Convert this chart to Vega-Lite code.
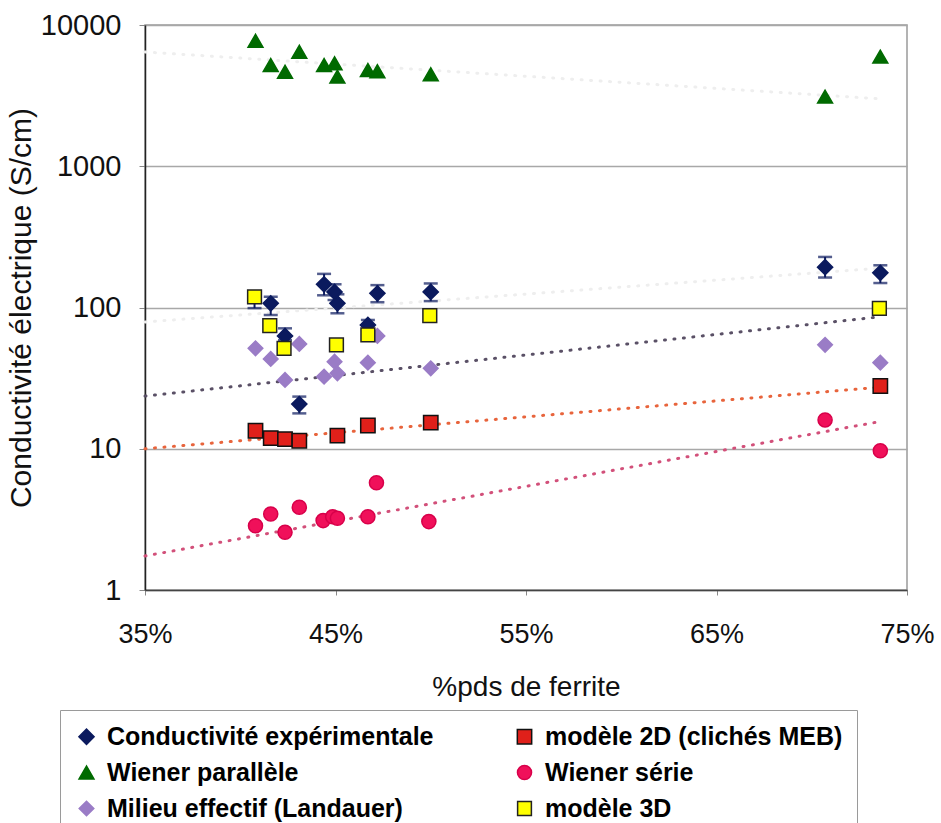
{
  "$schema": "https://vega.github.io/schema/vega-lite/v6.json",
  "width": 762,
  "height": 565,
  "autosize": {"type": "none"},
  "padding": {"left": 145, "top": 25, "right": 34, "bottom": 233},
  "background": "white",
  "config": {
    "font": "Liberation Sans",
    "view": {"stroke": "#9a9a9a", "strokeWidth": 1.5},
    "axis": {"labelFont": "Liberation Sans", "titleFont": "Liberation Sans", "labelColor": "#111", "titleColor": "#111", "titleFontWeight": "normal"}
  },
  "datasets": {
    "pts": [
      {"serie": "Conductivité expérimentale", "x": 41.6, "y": 107},
      {"serie": "Conductivité expérimentale", "x": 42.35, "y": 62.9},
      {"serie": "Conductivité expérimentale", "x": 43.1, "y": 20.7},
      {"serie": "Conductivité expérimentale", "x": 44.4, "y": 146},
      {"serie": "Conductivité expérimentale", "x": 44.95, "y": 129},
      {"serie": "Conductivité expérimentale", "x": 45.1, "y": 107},
      {"serie": "Conductivité expérimentale", "x": 46.7, "y": 75.2},
      {"serie": "Conductivité expérimentale", "x": 47.2, "y": 126},
      {"serie": "Conductivité expérimentale", "x": 50.0, "y": 129},
      {"serie": "Conductivité expérimentale", "x": 70.7, "y": 193},
      {"serie": "Conductivité expérimentale", "x": 73.6, "y": 176},
      {"serie": "modèle 2D (clichés MEB)", "x": 40.8, "y": 13.4},
      {"serie": "modèle 2D (clichés MEB)", "x": 41.6, "y": 11.9},
      {"serie": "modèle 2D (clichés MEB)", "x": 42.35, "y": 11.7},
      {"serie": "modèle 2D (clichés MEB)", "x": 43.1, "y": 11.4},
      {"serie": "modèle 2D (clichés MEB)", "x": 45.1, "y": 12.4},
      {"serie": "modèle 2D (clichés MEB)", "x": 46.7, "y": 14.6},
      {"serie": "modèle 2D (clichés MEB)", "x": 50.0, "y": 15.3},
      {"serie": "modèle 2D (clichés MEB)", "x": 73.6, "y": 27.8},
      {"serie": "Wiener parallèle", "x": 40.8, "y": 7740},
      {"serie": "Wiener parallèle", "x": 41.6, "y": 5210},
      {"serie": "Wiener parallèle", "x": 42.35, "y": 4670},
      {"serie": "Wiener parallèle", "x": 43.1, "y": 6470},
      {"serie": "Wiener parallèle", "x": 44.4, "y": 5210},
      {"serie": "Wiener parallèle", "x": 44.95, "y": 5360},
      {"serie": "Wiener parallèle", "x": 45.1, "y": 4310},
      {"serie": "Wiener parallèle", "x": 46.7, "y": 4800},
      {"serie": "Wiener parallèle", "x": 47.2, "y": 4710},
      {"serie": "Wiener parallèle", "x": 50.0, "y": 4480},
      {"serie": "Wiener parallèle", "x": 70.7, "y": 3110},
      {"serie": "Wiener parallèle", "x": 73.6, "y": 5970},
      {"serie": "Wiener série", "x": 40.8, "y": 2.85},
      {"serie": "Wiener série", "x": 41.6, "y": 3.45},
      {"serie": "Wiener série", "x": 42.35, "y": 2.56},
      {"serie": "Wiener série", "x": 43.1, "y": 3.85},
      {"serie": "Wiener série", "x": 44.35, "y": 3.1},
      {"serie": "Wiener série", "x": 44.85, "y": 3.3},
      {"serie": "Wiener série", "x": 45.1, "y": 3.22},
      {"serie": "Wiener série", "x": 46.7, "y": 3.3},
      {"serie": "Wiener série", "x": 47.15, "y": 5.75},
      {"serie": "Wiener série", "x": 49.9, "y": 3.05},
      {"serie": "Wiener série", "x": 70.7, "y": 16.0},
      {"serie": "Wiener série", "x": 73.6, "y": 9.69},
      {"serie": "Milieu effectif (Landauer)", "x": 40.8, "y": 51.4},
      {"serie": "Milieu effectif (Landauer)", "x": 41.6, "y": 43.2},
      {"serie": "Milieu effectif (Landauer)", "x": 42.35, "y": 30.7},
      {"serie": "Milieu effectif (Landauer)", "x": 43.1, "y": 55.2},
      {"serie": "Milieu effectif (Landauer)", "x": 44.4, "y": 32.4},
      {"serie": "Milieu effectif (Landauer)", "x": 44.95, "y": 41.3},
      {"serie": "Milieu effectif (Landauer)", "x": 45.1, "y": 34.2},
      {"serie": "Milieu effectif (Landauer)", "x": 46.7, "y": 40.7},
      {"serie": "Milieu effectif (Landauer)", "x": 47.2, "y": 62.9},
      {"serie": "Milieu effectif (Landauer)", "x": 50.0, "y": 37.1},
      {"serie": "Milieu effectif (Landauer)", "x": 70.7, "y": 54.4},
      {"serie": "Milieu effectif (Landauer)", "x": 73.6, "y": 40.7},
      {"serie": "modèle 3D", "x": 40.75, "y": 119},
      {"serie": "modèle 3D", "x": 41.55, "y": 74.3},
      {"serie": "modèle 3D", "x": 42.3, "y": 51.4},
      {"serie": "modèle 3D", "x": 45.05, "y": 54.3},
      {"serie": "modèle 3D", "x": 46.7, "y": 63.9},
      {"serie": "modèle 3D", "x": 49.95, "y": 87.5},
      {"serie": "modèle 3D", "x": 73.55, "y": 98.7}
    ],
    "errs": [
      {"serie": "Conductivité expérimentale", "x": 41.6, "lo": 88.5, "hi": 119},
      {"serie": "Conductivité expérimentale", "x": 42.35, "lo": 58.7, "hi": 71.2},
      {"serie": "Conductivité expérimentale", "x": 43.1, "lo": 17.8, "hi": 23.4},
      {"serie": "Conductivité expérimentale", "x": 44.4, "lo": 122, "hi": 173},
      {"serie": "Conductivité expérimentale", "x": 44.95, "lo": 113, "hi": 146},
      {"serie": "Conductivité expérimentale", "x": 45.1, "lo": 91, "hi": 124},
      {"serie": "Conductivité expérimentale", "x": 46.7, "lo": 69, "hi": 81.6},
      {"serie": "Conductivité expérimentale", "x": 47.2, "lo": 109, "hi": 144},
      {"serie": "Conductivité expérimentale", "x": 50.0, "lo": 111, "hi": 148},
      {"serie": "Conductivité expérimentale", "x": 70.7, "lo": 163, "hi": 228},
      {"serie": "Conductivité expérimentale", "x": 73.6, "lo": 149, "hi": 199},
      {"serie": "modèle 3D", "x": 40.75, "lo": 99, "hi": 125}
    ],
    "trends": [
      {"trend": "exp", "x": 35, "y": 79},
      {"trend": "exp", "x": 73.6, "y": 190},
      {"trend": "par", "x": 35, "y": 6440},
      {"trend": "par", "x": 73.6, "y": 3000},
      {"trend": "landauer", "x": 35, "y": 23.6},
      {"trend": "landauer", "x": 73.6, "y": 86},
      {"trend": "2d", "x": 35, "y": 10.0},
      {"trend": "2d", "x": 73.6, "y": 27.3},
      {"trend": "serie", "x": 35, "y": 1.74},
      {"trend": "serie", "x": 73.6, "y": 15.6}
    ]
  },
  "encoding": {
    "x": {
      "field": "x", "type": "quantitative",
      "scale": {"domain": [35, 75], "nice": false, "zero": false},
      "axis": {
        "values": [35, 45, 55, 65, 75],
        "labelExpr": "datum.value + '%'",
        "title": "%pds de ferrite",
        "labelFontSize": 27, "titleFontSize": 28,
        "labelPadding": 26, "titlePadding": 26,
        "tickSize": 5, "tickColor": "#888", "domainColor": "#444", "domainWidth": 1.5,
        "grid": false, "labelFlush": false
      }
    }
  },
  "layer": [
    {
      "data": {"name": "trends"},
      "transform": [{"filter": "datum.trend === 'exp' || datum.trend === 'par'"}],
      "mark": {"type": "line", "color": "#eeeeee", "strokeWidth": 3, "strokeDash": [1, 8.5], "strokeCap": "round"},
      "encoding": {"y": {"field": "y", "type": "quantitative", "title": "Conductivité électrique (S/cm)"}, "detail": {"field": "trend"}}
    },
    {
      "data": {"name": "trends"},
      "transform": [{"filter": "datum.trend === 'landauer'"}],
      "mark": {"type": "line", "color": "#5a5066", "strokeWidth": 3, "strokeDash": [1, 8.5], "strokeCap": "round"},
      "encoding": {"y": {"field": "y", "type": "quantitative", "title": "Conductivité électrique (S/cm)"}}
    },
    {
      "data": {"name": "trends"},
      "transform": [{"filter": "datum.trend === '2d'"}],
      "mark": {"type": "line", "color": "#e8643c", "strokeWidth": 3, "strokeDash": [1, 8.5], "strokeCap": "round"},
      "encoding": {"y": {"field": "y", "type": "quantitative", "title": "Conductivité électrique (S/cm)"}}
    },
    {
      "data": {"name": "trends"},
      "transform": [{"filter": "datum.trend === 'serie'"}],
      "mark": {"type": "line", "color": "#d2507a", "strokeWidth": 3, "strokeDash": [1, 8.5], "strokeCap": "round"},
      "encoding": {"y": {"field": "y", "type": "quantitative", "title": "Conductivité électrique (S/cm)"}}
    },
    {
      "data": {"name": "errs"},
      "mark": {"type": "errorbar", "ticks": {"size": 14, "thickness": 2.5, "color": "#0b1a5e"}, "thickness": 2, "color": "#0b1a5e"},
      "encoding": {
        "y": {"field": "lo", "type": "quantitative", "title": "Conductivité électrique (S/cm)"},
        "y2": {"field": "hi"}
      }
    },
    {
      "data": {"name": "pts"},
      "mark": {"type": "point", "filled": true, "strokeWidth": 1.5, "opacity": 1},
      "encoding": {
        "y": {
          "field": "y", "type": "quantitative",
          "title": "Conductivité électrique (S/cm)",
          "scale": {"type": "log", "domain": [1, 10000], "nice": false},
          "axis": {
            "values": [1, 10, 100, 1000, 10000],
            "format": "d",
            "title": "Conductivité électrique (S/cm)",
            "labelFontSize": 29, "titleFontSize": 30,
            "labelPadding": 18, "titlePadding": 4,
            "tickSize": 6, "tickColor": "#888", "domainColor": "#222", "domainWidth": 1.5,
            "grid": true, "gridColor": "#a8a8a8", "gridWidth": 1.5
          }
        },
        "color": {
          "field": "serie", "type": "nominal", "title": null,
          "scale": {
            "domain": ["Conductivité expérimentale", "Wiener parallèle", "Milieu effectif (Landauer)", "modèle 2D (clichés MEB)", "Wiener série", "modèle 3D"],
            "range": ["#0b1a5e", "#006a00", "#9a7cc6", "#e0201a", "#f0105a", "#ffff00"]
          },
          "legend": {
            "orient": "none",
            "legendX": -85,
            "legendY": 685,
            "columns": 2,
            "gridAlign": "all",
            "padding": 14,
            "strokeColor": "#9a9a9a",
            "fillColor": "white",
            "labelFont": "Liberation Sans",
            "labelFontWeight": "bold",
            "labelFontSize": 25,
            "labelColor": "#000",
            "labelLimit": 500,
            "labelOffset": 8,
            "symbolSize": 100,
            "symbolStrokeWidth": 1.5,
            "columnPadding": 78,
            "rowPadding": 10
          }
        },
        "shape": {
          "field": "serie", "type": "nominal", "title": null,
          "scale": {
            "domain": ["Conductivité expérimentale", "Wiener parallèle", "Milieu effectif (Landauer)", "modèle 2D (clichés MEB)", "Wiener série", "modèle 3D"],
            "range": ["diamond", "triangle-up", "diamond", "square", "circle", "square"]
          }
        },
        "stroke": {
          "field": "serie", "type": "nominal", "title": null,
          "scale": {
            "domain": ["Conductivité expérimentale", "Wiener parallèle", "Milieu effectif (Landauer)", "modèle 2D (clichés MEB)", "Wiener série", "modèle 3D"],
            "range": ["#0b1a5e", "#006a00", "#9a7cc6", "#111111", "#d8004a", "#222222"]
          }
        },
        "size": {
          "field": "serie", "type": "nominal", "legend": null,
          "scale": {
            "domain": ["Conductivité expérimentale", "Wiener parallèle", "Milieu effectif (Landauer)", "modèle 2D (clichés MEB)", "Wiener série", "modèle 3D"],
            "range": [230, 190, 180, 150, 170, 230]
          }
        }
      }
    }
  ]
}
